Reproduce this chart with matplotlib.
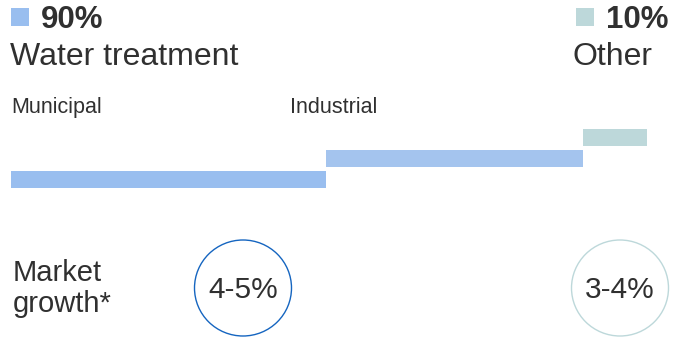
import matplotlib

matplotlib.use("Agg")
import matplotlib.pyplot as plt
from matplotlib.patches import Ellipse, Rectangle

plt.rcParams["font.family"] = ["Liberation Sans", "DejaVu Sans"]

# Market split (% of total)
segments = ["Municipal", "Industrial", "Other"]
shares = [49.5, 40.5, 10.0]
seg_colors = ["#99BEEF", "#A4C4EE", "#BDD8DA"]

# Headline groups
group_labels = ["Water treatment", "Other"]
group_shares = ["90%", "10%"]
group_colors = ["#99BEEF", "#BDD8DA"]

# Expected market growth per group
growth_labels = ["4-5%", "3-4%"]
growth_edges = ["#1565C0", "#BDD8DA"]

TEXT = "#303030"
W, H = 674, 338

fig = plt.figure(figsize=(W / 100, H / 100), dpi=100)

# Overlay axes in pixel units for headers and growth bubbles
ov = fig.add_axes([0, 0, 1, 1])
ov.set_xlim(0, W)
ov.set_ylim(H, 0)
ov.axis("off")

# Stepped bar chart (waterfall style)
ax = fig.add_axes([11 / W, (H - 192) / H, 636 / W, 67 / H])
lefts = [sum(shares[:i]) for i in range(len(shares))]
ax.barh(range(len(shares)), shares, left=lefts, height=0.82,
        color=seg_colors, linewidth=0)
ax.set_xlim(0, 100)
ax.set_ylim(-0.6, 2.6)
ax.axis("off")

# Segment labels above the bars
ov.text(11, 113, segments[0], fontsize=15.5, color=TEXT, va="baseline")
ov.text(290, 113, segments[1], fontsize=15.5, color=TEXT, va="baseline")

# Group headers: colour square, bold share, name
header_x = [(11, 41, 10), (576, 606, 573)]
for (sq_x, pct_x, name_x), lab, pct, col in zip(header_x, group_labels,
                                                 group_shares, group_colors):
    ov.add_patch(Rectangle((sq_x, 8), 18, 18, color=col, linewidth=0))
    ov.text(pct_x, 28.5, pct, fontsize=22.5, fontweight="bold", color=TEXT,
            va="baseline")
    ov.text(name_x, 65, lab, fontsize=23, color=TEXT, va="baseline")

# Market growth row
ov.text(13, 281, "Market", fontsize=21, color=TEXT, va="baseline")
ov.text(13, 312, "growth*", fontsize=21, color=TEXT, va="baseline")
for cx, lab, edge in zip([243, 620], growth_labels, growth_edges):
    ov.add_patch(Ellipse((cx, 288), 97, 96, facecolor="none",
                         edgecolor=edge, linewidth=1.0))
    ov.text(cx, 290, lab, fontsize=21.5, color=TEXT, ha="center", va="center")

fig.savefig("out.png", dpi=100)
